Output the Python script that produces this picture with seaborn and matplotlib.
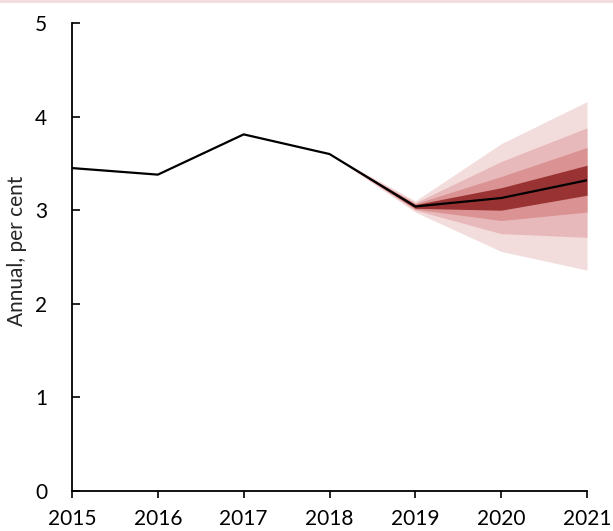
"""Fan chart: annual growth projection with uncertainty bands."""

import matplotlib.pyplot as plt
import matplotlib.lines as mlines
import numpy as np
import pandas as pd
import seaborn as sns

YEARS = [2015, 2016, 2017, 2018, 2019, 2020, 2021]
CENTRAL = [3.45, 3.38, 3.81, 3.60, 3.04, 3.13, 3.32]

FAN_YEARS = [2018, 2019, 2020, 2021]
# band edges (lower, upper), outermost first
OUTER_LO = [3.60, 2.98, 2.56, 2.36]
OUTER_HI = [3.60, 3.10, 3.71, 4.16]
MID_LO = [3.60, 3.00, 2.75, 2.71]
MID_HI = [3.60, 3.08, 3.52, 3.88]
INNER_LO = [3.60, 3.01, 2.89, 2.98]
INNER_HI = [3.60, 3.07, 3.36, 3.67]
CORE_LO = [3.60, 3.02, 3.00, 3.16]
CORE_HI = [3.60, 3.06, 3.24, 3.48]

BAND_COLORS = ["#f2dcdc", "#e8b9ba", "#da9292", "#993333"]

sns.set_theme(style="ticks")
plt.rcParams["font.family"] = ["Lato", "DejaVu Sans"]

df = pd.DataFrame({"Year": YEARS, "Value": CENTRAL})

fig = plt.figure(figsize=(6.13, 5.31), dpi=100)
ax = fig.add_axes([0.1175, 0.0753, 0.8401, 0.8814])

bands = [
    (OUTER_LO, OUTER_HI),
    (MID_LO, MID_HI),
    (INNER_LO, INNER_HI),
    (CORE_LO, CORE_HI),
]
for (lo, hi), color in zip(bands, BAND_COLORS):
    ax.fill_between(FAN_YEARS, lo, hi, color=color, linewidth=0)

sns.lineplot(data=df, x="Year", y="Value", color="black", linewidth=1.6, ax=ax)

ax.set_xlim(2015, 2021)
ax.set_ylim(0, 5)
ax.set_xticks(YEARS)
ax.set_yticks(np.arange(0, 6, 1))
ax.set_xlabel("")
ax.set_ylabel("Annual, per cent", fontsize=15)
ax.yaxis.set_label_coords(-0.088, 0.513)
ax.tick_params(axis="x", direction="out", length=5, width=1.2,
               labelsize=15, colors="black", pad=8)
ax.tick_params(axis="y", direction="in", length=6, width=1.2,
               labelsize=15, colors="black", pad=18)
sns.despine(ax=ax)
for side in ("left", "bottom"):
    ax.spines[side].set_linewidth(1.3)
    ax.spines[side].set_color("black")

fig.add_artist(mlines.Line2D([0, 1], [0.998, 0.998], color="#f2dcdc",
                             linewidth=2, transform=fig.transFigure))

fig.savefig("out.png", dpi=100)
